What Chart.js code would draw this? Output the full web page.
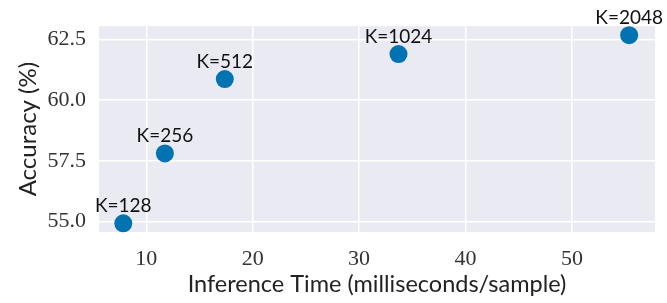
<!DOCTYPE html>
<html><head><meta charset="utf-8">
<script src="https://cdn.jsdelivr.net/npm/chart.js@4"></script>
<style>html,body{margin:0;padding:0;background:#fff}#wrap{width:667px;height:303px}</style>
</head><body><div id="wrap"><canvas id="c"></canvas></div>
<script>
const pointLabels = ["K=128", "K=256", "K=512", "K=1024", "K=2048"];
const inferenceTime = [7.84, 11.75, 17.38, 33.7, 55.37];
const accuracy = [54.92, 57.8, 60.87, 61.9, 62.68];
const xTicks = [10, 20, 30, 40, 50];
const yTicks = [55.0, 57.5, 60.0, 62.5];

const labelPlugin = {
  id: 'pointLabels',
  afterDatasetsDraw(chart) {
    const ctx = chart.ctx;
    const meta = chart.getDatasetMeta(0);
    ctx.save();
    ctx.font = '19px Lato';
    ctx.fillStyle = '#111';
    ctx.textAlign = 'center';
    ctx.textBaseline = 'alphabetic';
    meta.data.forEach((pt, i) => {
      ctx.fillText(pointLabels[i], pt.x, pt.y - 11.5);
    });
    ctx.restore();
  }
};
const bgPlugin = {
  id: 'bg',
  beforeDraw(chart) {
    const {ctx, chartArea: a} = chart;
    ctx.save();
    ctx.fillStyle = '#EAEAF2';
    ctx.fillRect(a.left, a.top, a.right - a.left, a.bottom - a.top);
    ctx.restore();
  }
};

new Chart(document.getElementById('c'), {
  type: 'scatter',
  data: {
    datasets: [{
      data: inferenceTime.map((x, i) => ({x: x, y: accuracy[i]})),
      backgroundColor: '#0173B2',
      borderColor: '#0173B2',
      borderWidth: 0,
      pointRadius: 9,
      pointHoverRadius: 9,
      clip: false
    }]
  },
  options: {
    responsive: true,
    maintainAspectRatio: false,
    animation: false,
    events: [],
    layout: {padding: {left: 0, top: 26, right: 12, bottom: 0}},
    plugins: {legend: {display: false}, tooltip: {enabled: false}},
    scales: {
      x: {
        type: 'linear', min: 5.56, max: 57.8,
        border: {display: false},
        grid: {color: '#ffffff', lineWidth: 1.5, drawTicks: false},
        afterBuildTicks: s => { s.ticks = xTicks.map(v => ({value: v})); },
        afterFit: s => { s.height = 71; },
        ticks: {padding: 14, color: '#333', font: {family: 'Liberation Serif', size: 22},
          callback: v => String(v)},
        title: {display: true, text: 'Inference Time (milliseconds/sample)', color: '#222',
          font: {family: 'Lato', size: 23.5}, padding: {top: 0, bottom: 4}}
      },
      y: {
        type: 'linear', min: 54.56, max: 63.05,
        border: {display: false},
        grid: {color: '#ffffff', lineWidth: 1.5, drawTicks: false},
        afterBuildTicks: s => { s.ticks = yTicks.map(v => ({value: v})); },
        afterFit: s => { s.width = 99; },
        ticks: {padding: 13, color: '#333', font: {family: 'Liberation Serif', size: 22},
          callback: v => Number(v).toFixed(1)},
        title: {display: true, text: 'Accuracy (%)', color: '#222',
          font: {family: 'Lato', size: 24}, padding: {top: 14, bottom: 0}}
      }
    }
  },
  plugins: [bgPlugin, labelPlugin]
});
</script></body></html>
